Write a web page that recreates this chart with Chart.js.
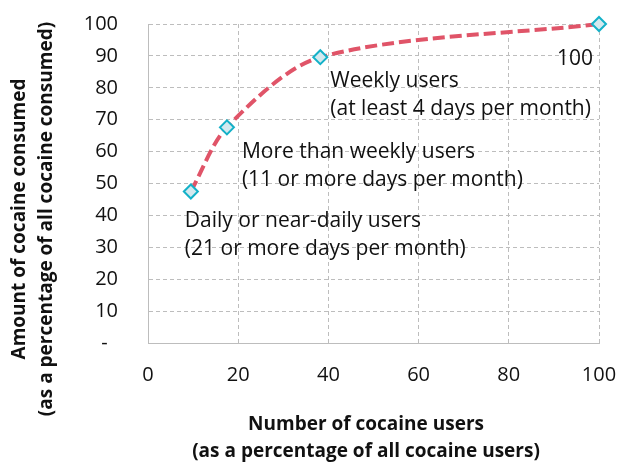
<!DOCTYPE html>
<html>
<head>
<meta charset="utf-8">
<script src="https://cdn.jsdelivr.net/npm/chart.js@4.4.1/dist/chart.umd.min.js"></script>
<style>
  html, body { margin: 0; padding: 0; background: #fff; }
  #wrap { width: 619px; height: 467px; }
</style>
</head>
<body>
<div id="wrap"><canvas id="curve" width="619" height="467"></canvas></div>
<script>
// cumulative share of users (x) vs share of cocaine consumed (y)
const usersPct = [9.5, 17.5, 38.2, 100]
const consumedPct = [47.5, 67.6, 89.6, 100]
const groupLabels = [
    ['Daily or near-daily users', '(21 or more days per month)'],
    ['More than weekly users', '(11 or more days per month)'],
    ['Weekly users', '(at least 4 days per month)'],
    ['100']
]
const xTitle = ['Number of cocaine users', '(as a percentage of all cocaine users)']
const yTitle = ['Amount of cocaine consumed', '(as a percentage of all cocaine consumed)']

const FONT = '"Open Sans", "Liberation Sans", sans-serif'
const TEXT = '#111'
const gridColor = '#bdbdbd'

// where each label sits relative to its point (baseline of first line)
const labelOffsets = [
    { dx: -6, dy: 36, align: 'left' },
    { dx: 15, dy: 31, align: 'left' },
    { dx: 10, dy: 30, align: 'left' },
    { dx: -6, dy: 41, align: 'right' }
]

const pointLabels = {
    id: 'pointLabels',
    afterDatasetsDraw(chart) {
        const ctx = chart.ctx
        const xs = chart.scales.x
        const ys = chart.scales.y
        ctx.save()
        ctx.font = '21px ' + FONT
        ctx.fillStyle = TEXT
        ctx.textBaseline = 'alphabetic'
        groupLabels.forEach((lines, i) => {
            const off = labelOffsets[i]
            const px = xs.getPixelForValue(usersPct[i]) + off.dx
            const py = ys.getPixelForValue(consumedPct[i]) + off.dy
            ctx.textAlign = off.align
            lines.forEach((line, j) => ctx.fillText(line, px, py + j * 27.5))
        })
        ctx.restore()
    }
}

// axis titles, placed like the original (y title sits a bit low)
const axisTitles = {
    id: 'axisTitles',
    afterDraw(chart) {
        const ctx = chart.ctx
        ctx.save()
        ctx.font = 'bold 19px ' + FONT
        ctx.fillStyle = TEXT
        ctx.textAlign = 'center'
        ctx.textBaseline = 'alphabetic'
        xTitle.forEach((line, j) => ctx.fillText(line, 366, 430 + j * 27))
        yTitle.forEach((line, j) => {
            ctx.save()
            ctx.translate(25 + j * 26.5, 219)
            ctx.rotate(-Math.PI / 2)
            ctx.fillText(line, 0, 0)
            ctx.restore()
        })
        ctx.restore()
    }
}

// keep the plot box fixed: no extra room for overhanging tick labels
function noOverhang(scale) {
    scale.paddingTop = 0
    scale.paddingBottom = 0
    scale.paddingLeft = 0
    scale.paddingRight = 0
}

new Chart(document.getElementById('curve'), {
    type: 'line',
    data: {
        datasets: [{
            data: usersPct.map((x, i) => ({ x: x, y: consumedPct[i] })),
            borderColor: '#e05468',
            borderWidth: 4,
            borderDash: [12, 5],
            tension: 0.3,
            fill: false,
            clip: false,
            pointStyle: 'rectRot',
            pointRadius: 7,
            pointBorderWidth: 2,
            pointBorderColor: '#14b1c8',
            pointBackgroundColor: '#d4e9ef'
        }]
    },
    options: {
        responsive: false,
        animation: false,
        layout: { padding: { top: 24, right: 20, left: 0, bottom: 0 } },
        plugins: {
            legend: { display: false },
            tooltip: { enabled: false }
        },
        scales: {
            x: {
                type: 'linear',
                min: 0,
                max: 100,
                ticks: { stepSize: 20, padding: 20, color: TEXT, font: { family: FONT, size: 20 } },
                grid: { color: gridColor, drawTicks: false },
                border: { color: gridColor, dash: [4, 3] },
                afterFit(scale) {
                    scale.height = 124
                    noOverhang(scale)
                }
            },
            y: {
                min: 0,
                max: 100,
                ticks: {
                    stepSize: 10,
                    padding: 30,
                    color: TEXT,
                    font: { family: FONT, size: 20 },
                    // accounting-style zero
                    callback: v => v === 0 ? '-  ' : v
                },
                grid: { color: gridColor, drawTicks: false },
                border: { color: gridColor, dash: [4, 3] },
                afterFit(scale) {
                    scale.width = 148
                    noOverhang(scale)
                }
            }
        }
    },
    plugins: [pointLabels, axisTitles]
})
</script>
</body>
</html>
